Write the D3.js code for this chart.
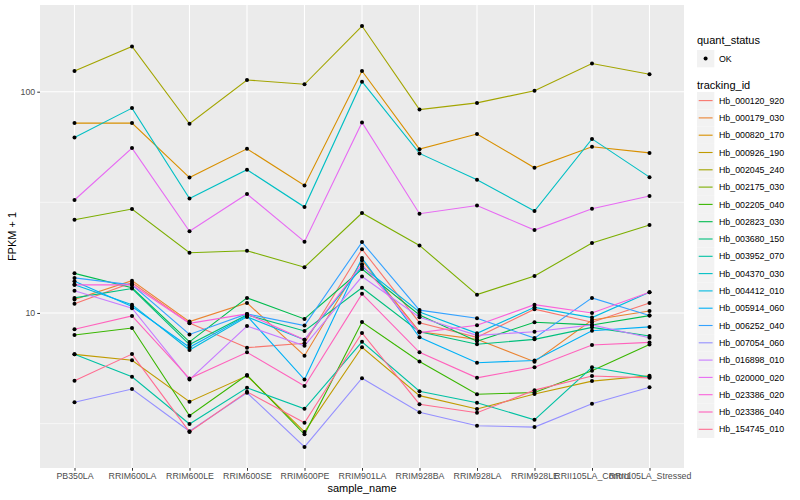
<!DOCTYPE html>
<html>
<head>
<meta charset="utf-8">
<script src="https://cdn.jsdelivr.net/npm/d3@7"></script>
<style>
  body { margin: 0; background: #fff; }
  text { font-family: "Liberation Sans", Arial, sans-serif; }
</style>
</head>
<body>
<div id="chart"></div>
<script>
// sample names along x
var samples = ["PB350LA", "RRIM600LA", "RRIM600LE", "RRIM600SE", "RRIM600PE", "RRIM901LA",
  "RRIM928BA", "RRIM928LA", "RRIM928LE", "RRII105LA_Control", "RRII105LA_Stressed"]

var trackingIds = ["Hb_000120_920", "Hb_000179_030", "Hb_000820_170", "Hb_000926_190", "Hb_002045_240",
  "Hb_002175_030", "Hb_002205_040", "Hb_002823_030", "Hb_003680_150", "Hb_003952_070",
  "Hb_004370_030", "Hb_004412_010", "Hb_005914_060", "Hb_006252_040", "Hb_007054_060",
  "Hb_016898_010", "Hb_020000_020", "Hb_023386_020", "Hb_023386_040", "Hb_154745_010"]

// FPKM + 1, one row per tracking id, one column per sample
var values = [
  [11.0, 13.7, 9.0, 6.97, 7.3, 19.4, 9.04, 7.76, 10.4, 9.08, 11.1],
  [11.5, 14.0, 9.14, 11.1, 6.41, 17.3, 8.23, 7.6, 6.02, 9.29, 10.2],
  [72.1, 72.1, 40.9, 55.2, 37.7, 124, 55.0, 64.4, 45.3, 56.4, 52.9],
  [6.5, 6.11, 3.97, 5.2, 2.9, 7.0, 4.23, 3.68, 4.3, 4.92, 5.2],
  [124, 160, 71.6, 113, 108, 198, 83, 89, 101, 134, 120],
  [26.4, 29.5, 18.7, 19.1, 16.1, 28.3, 20.2, 12.1, 14.7, 20.7, 25.0],
  [7.95, 8.55, 3.43, 5.24, 2.83, 9.1, 6.04, 4.29, 4.37, 5.48, 7.21],
  [15.1, 13.0, 7.4, 11.7, 9.4, 15.8, 9.8, 7.45, 9.08, 8.83, 9.73],
  [11.7, 12.9, 7.2, 9.8, 8.29, 13.0, 8.23, 7.22, 7.6, 8.61, 7.87],
  [6.5, 5.15, 3.15, 4.59, 3.69, 7.41, 4.43, 3.93, 3.29, 5.68, 5.13],
  [62.1, 84.3, 32.9, 44.4, 30.1, 111, 52.6, 40.0, 28.9, 61.2, 41.1],
  [13.4, 10.9, 6.8, 9.6, 7.57, 16.2, 10.1, 8.09, 10.6, 9.53, 12.4],
  [13.9, 10.7, 7.0, 9.7, 5.0, 17.7, 7.76, 5.96, 6.1, 8.31, 8.65],
  [14.4, 13.4, 8.0, 9.9, 8.77, 20.9, 10.3, 9.46, 7.7, 11.7, 9.73],
  [3.95, 4.53, 2.92, 4.36, 2.48, 5.07, 3.56, 3.09, 3.05, 3.89, 4.62],
  [12.6, 10.5, 5.0, 8.73, 7.11, 14.6, 9.57, 7.92, 8.23, 8.83, 7.73],
  [32.4, 55.6, 23.4, 34.5, 21.0, 72.6, 28.1, 30.6, 23.7, 29.6, 33.8],
  [13.4, 13.4, 8.98, 9.9, 7.57, 16.6, 8.15, 8.8, 10.9, 10.0, 12.4],
  [8.44, 9.7, 5.05, 6.64, 4.68, 12.2, 6.64, 5.09, 5.68, 7.17, 7.36],
  [4.94, 6.52, 2.9, 4.4, 3.19, 8.12, 3.87, 3.54, 4.48, 5.19, 5.09]
]

var yTicks = [10, 100]
var yMinor = [Math.pow(10, 0.5), Math.pow(10, 1.5), Math.pow(10, 2.5)]

var statusLevels = ["OK"]

// ggplot hue palette for 20 levels
var colors = ["#F8766D", "#EA8331", "#D89000", "#C09B00", "#A3A500", "#7CAE00", "#39B600", "#00BB4E",
  "#00BF7D", "#00C1A3", "#00BFC4", "#00BAE0", "#00B0F6", "#35A2FF", "#9590FF", "#C77CFF",
  "#E76BF3", "#FA62DB", "#FF62BC", "#FF6C91"]

var W = 800, H = 500
var panel = { left: 40, top: 5, right: 684, bottom: 468 }

var svg = d3.select("#chart").append("svg")
    .attr("width", W)
    .attr("height", H)

var series = trackingIds.map(function (id, i) {
  return { id: id, color: colors[i], pts: samples.map(function (s, j) { return { s: s, v: values[i][j] } }) }
})

// x: discrete with 0.6 expansion like ggplot
var x = d3.scalePoint()
    .domain(samples)
    .range([panel.left, panel.right])
    .padding(0.6)

// y: log10 with 5% expansion in log space
var all = d3.merge(values)
var lo = Math.log10(d3.min(all)), hi = Math.log10(d3.max(all))
var pad = (hi - lo) * 0.05
var y = d3.scaleLog()
    .domain([Math.pow(10, lo - pad), Math.pow(10, hi + pad)])
    .range([panel.bottom, panel.top])

svg.append("rect")
    .attr("x", panel.left).attr("y", panel.top)
    .attr("width", panel.right - panel.left).attr("height", panel.bottom - panel.top)
    .attr("fill", "#EBEBEB")

var grid = svg.append("g")

grid.selectAll(".minor").data(yMinor.filter(function (d) { return d > y.domain()[0] && d < y.domain()[1] }))
  .enter().append("line")
    .attr("x1", panel.left).attr("x2", panel.right)
    .attr("y1", function (d) { return y(d) }).attr("y2", function (d) { return y(d) })
    .attr("stroke", "#fff").attr("stroke-width", 0.55)

grid.selectAll(".major").data(yTicks)
  .enter().append("line")
    .attr("x1", panel.left).attr("x2", panel.right)
    .attr("y1", function (d) { return y(d) }).attr("y2", function (d) { return y(d) })
    .attr("stroke", "#fff").attr("stroke-width", 1.1)

grid.selectAll(".vx").data(samples)
  .enter().append("line")
    .attr("x1", function (d) { return x(d) }).attr("x2", function (d) { return x(d) })
    .attr("y1", panel.top).attr("y2", panel.bottom)
    .attr("stroke", "#fff").attr("stroke-width", 1.1)

var line = d3.line()
    .x(function (d) { return x(d.s) })
    .y(function (d) { return y(d.v) })

svg.append("g").selectAll("path").data(series)
  .enter().append("path")
    .attr("d", function (d) { return line(d.pts) })
    .attr("fill", "none")
    .attr("stroke", function (d) { return d.color })
    .attr("stroke-width", 1.1)

svg.append("g").selectAll("g").data(series)
  .enter().append("g")
  .selectAll("circle").data(function (d) { return d.pts })
  .enter().append("circle")
    .attr("cx", function (d) { return x(d.s) })
    .attr("cy", function (d) { return y(d.v) })
    .attr("r", 2)
    .attr("fill", "#000")

// axes
var yAxis = d3.axisLeft(y).tickValues(yTicks).tickFormat(d3.format("d")).tickSize(2.75).tickPadding(2)
var gy = svg.append("g").attr("transform", "translate(" + panel.left + ",0)").call(yAxis)
var xAxis = d3.axisBottom(x).tickSize(2.75).tickPadding(2)
var gx = svg.append("g").attr("transform", "translate(0," + panel.bottom + ")").call(xAxis)

;[gx, gy].forEach(function (g) {
  g.select(".domain").remove()
  g.selectAll(".tick line").attr("stroke", "#333")
  g.selectAll(".tick text").attr("fill", "#4D4D4D").style("font-size", "8.8px")
    .style("font-family", "Liberation Sans, Arial, sans-serif")
})

svg.append("text")
    .attr("x", (panel.left + panel.right) / 2).attr("y", 492)
    .attr("text-anchor", "middle")
    .style("font-size", "11px")
    .text("sample_name")

svg.append("text")
    .attr("transform", "translate(16," + (panel.top + panel.bottom) / 2 + ") rotate(-90)")
    .attr("text-anchor", "middle")
    .style("font-size", "11px")
    .text("FPKM + 1")

// legends
var lg = svg.append("g").attr("transform", "translate(697,0)")

lg.append("text").attr("x", 0).attr("y", 44).style("font-size", "11px").text("quant_status")
var sk = lg.selectAll(".status").data(statusLevels).enter().append("g")
    .attr("transform", function (d, i) { return "translate(0," + (50 + i * 17.3) + ")" })
sk.append("rect").attr("width", 17.3).attr("height", 17.3).attr("fill", "#F2F2F2")
sk.append("circle").attr("cx", 8.6).attr("cy", 8.6).attr("r", 2).attr("fill", "#000")
sk.append("text").attr("x", 22).attr("y", 11.8).style("font-size", "8.8px").text(function (d) { return d })

lg.append("text").attr("x", 0).attr("y", 89).style("font-size", "11px").text("tracking_id")
var tk = lg.selectAll(".tid").data(series).enter().append("g")
    .attr("transform", function (d, i) { return "translate(0," + (92 + i * 17.3) + ")" })
tk.append("rect").attr("width", 17.3).attr("height", 17.3).attr("fill", "#F2F2F2")
tk.append("line").attr("x1", 1.7).attr("x2", 15.6).attr("y1", 8.6).attr("y2", 8.6)
    .attr("stroke", function (d) { return d.color }).attr("stroke-width", 1.1)
tk.append("text").attr("x", 22).attr("y", 11.8).style("font-size", "8.8px").text(function (d) { return d.id })
</script>
</body>
</html>
